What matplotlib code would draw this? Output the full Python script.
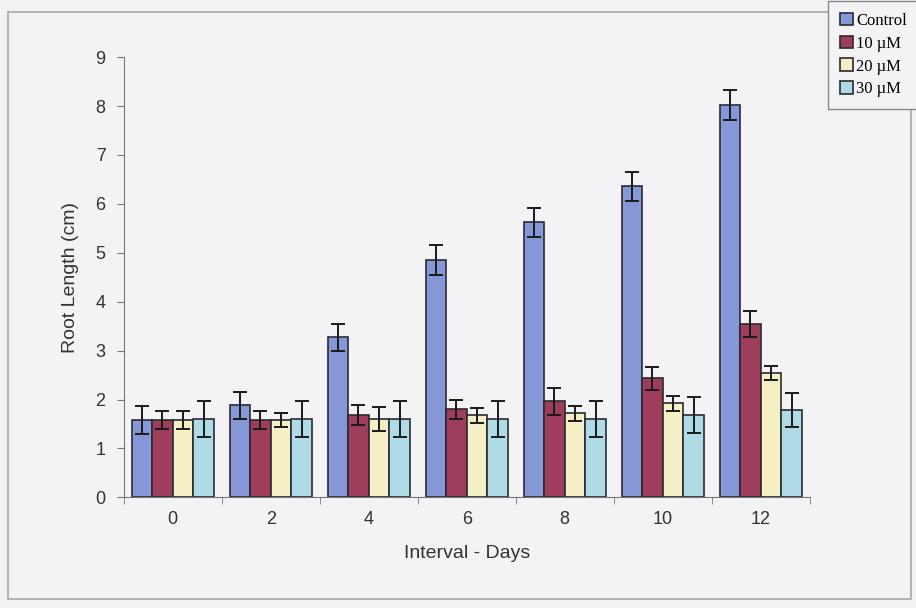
import numpy as np
import matplotlib.pyplot as plt
from matplotlib.patches import Rectangle

days = ['0', '2', '4', '6', '8', '10', '12']
series = ['Control', '10 \u00b5M', '20 \u00b5M', '30 \u00b5M']

control = [1.58, 1.88, 3.27, 4.85, 5.62, 6.36, 8.02]
control_err = [0.28, 0.27, 0.27, 0.3, 0.3, 0.3, 0.3]
um10 = [1.58, 1.58, 1.68, 1.8, 1.96, 2.43, 3.55]
um10_err = [0.18, 0.18, 0.2, 0.2, 0.27, 0.24, 0.27]
um20 = [1.58, 1.58, 1.6, 1.68, 1.72, 1.92, 2.54]
um20_err = [0.18, 0.15, 0.25, 0.15, 0.15, 0.15, 0.14]
um30 = [1.6, 1.6, 1.6, 1.6, 1.6, 1.68, 1.78]
um30_err = [0.37, 0.37, 0.37, 0.37, 0.37, 0.37, 0.35]

colors = ['#8597d6', '#9e3e5c', '#f4efc4', '#aedbe6']

plt.rcParams['font.family'] = ['Liberation Sans', 'DejaVu Sans']
fig = plt.figure(figsize=(9.16, 6.08), dpi=100, facecolor='#f3f3f5')
ax = fig.add_axes([0.135, 0.182, 0.749, 0.724])
ax.set_facecolor('#f3f3f5')

x = np.arange(len(days))
w = 0.21
vals = [control, um10, um20, um30]
errs = [control_err, um10_err, um20_err, um30_err]
for i, (v, e) in enumerate(zip(vals, errs)):
    ax.bar(x + (i - 1.5) * w, v, w, color=colors[i], edgecolor='#2a2a30',
           linewidth=1.2, label=series[i], zorder=2)
    ax.errorbar(x + (i - 1.5) * w, v, yerr=e, fmt='none', ecolor='#1a1a1a',
                elinewidth=1.4, capsize=5, capthick=1.4, zorder=3)

ax.set_xlim(-0.5, len(days) - 0.5)
ax.set_ylim(0, 9)
ax.set_yticks(range(10))
ax.set_xticks(x)
ax.set_xticklabels(days)
ax.set_xticks(np.arange(-0.5, len(days)), minor=True)
ax.tick_params(axis='x', which='major', length=0, pad=10, labelsize=13, colors='#333')
ax.tick_params(axis='x', which='minor', length=5, color='#777')
ax.tick_params(axis='y', length=5, color='#777', labelsize=13, colors='#333', pad=8)
for s in ['top', 'right']:
    ax.spines[s].set_visible(False)
for s in ['left', 'bottom']:
    ax.spines[s].set_color('#777')

ax.set_ylabel('Root Length (cm)', fontsize=14, color='#333', labelpad=12)
ax.set_xlabel('Interval - Days', fontsize=14, color='#333', labelpad=12)

# outer chart border
fig.patches.append(Rectangle((0.009, 0.015), 0.985, 0.965, transform=fig.transFigure,
                             fill=False, edgecolor='#a8a8a8', linewidth=1.2))

leg = fig.legend(loc='upper right', bbox_to_anchor=(1.012, 1.012),
                 prop={'family': 'Liberation Serif', 'size': 12},
                 handlelength=0.8, handleheight=0.8, handletextpad=0.2,
                 labelspacing=0.4, borderpad=0.7, fancybox=False,
                 edgecolor='#888', facecolor='#f3f3f5', framealpha=1)
leg.get_frame().set_linewidth(1.0)

fig.savefig('out.png', dpi=100, facecolor=fig.get_facecolor())
